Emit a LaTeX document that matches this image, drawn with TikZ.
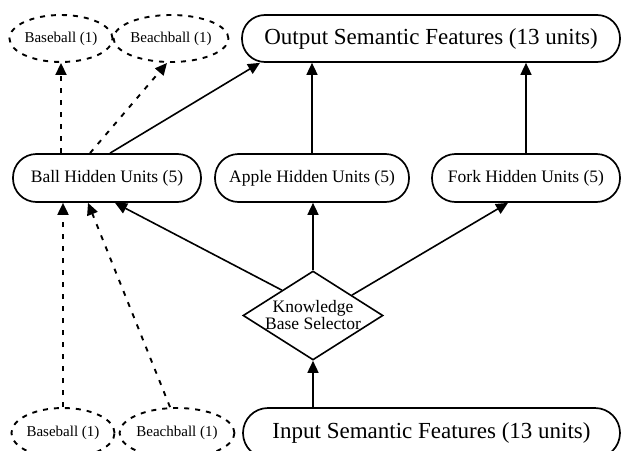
\documentclass[tikz,border=0pt]{standalone}
\usepackage{fontspec}
\setmainfont{Liberation Serif}
\usetikzlibrary{arrows.meta,shapes.geometric,calc}
\begin{document}
\begin{tikzpicture}[x=1pt,y=-1pt,
  box/.style={draw, line width=1.7pt, rounded corners=23pt, minimum height=47pt, inner sep=0pt, font=\fontsize{23}{26}\selectfont},
  hid/.style={draw, line width=1.7pt, rounded corners=23.5pt, minimum height=48pt, inner sep=0pt, font=\fontsize{17.5}{20}\selectfont},
  opt/.style={ellipse, draw, dash pattern=on 5pt off 6pt, line width=1.9pt, minimum width=98pt, minimum height=47pt, inner sep=0pt, font=\fontsize{15}{17}\selectfont},
  arr/.style={line width=1.6pt, -{Triangle[length=12pt,width=11pt]}},
  darr/.style={arr, line width=1.9pt, dash pattern=on 5pt off 7pt}]
\useasboundingbox (0,0) rectangle (624,450);
\clip (0,0) rectangle (624,450);
% top row
\node[box, minimum width=378pt] (out) at (431,38.5) {Output Semantic Features (13 units)};
\node[opt] (tbase) at (61,38.5) {Baseball (1)};
\node[opt, minimum width=102pt] (tbeach) at (171,38.5) {Beachball (1)};
% hidden row
\node[hid, minimum width=188pt] (ball) at (107,178) {Ball Hidden Units (5)};
\node[hid, minimum width=194pt] (apple) at (312,178) {Apple Hidden Units (5)};
\node[hid, minimum width=188pt] (fork) at (526,178) {Fork Hidden Units (5)};
% selector
\node[diamond, draw, line width=1.6pt, minimum width=140pt, minimum height=89pt, inner sep=0pt] (kb) at (313,315.5) {};
\node[align=center, font=\fontsize{17.5}{17}\selectfont] (kbt) at (kb.center) {Knowledge\\Base Selector};
% bottom row
\node[box, minimum width=377pt, minimum height=50pt, rounded corners=25pt] (inp) at (431.5,433) {Input Semantic Features (13 units)};
\node[opt, minimum width=100pt, minimum height=50pt] (bbase) at (63,433) {Baseball (1)};
\node[opt, minimum width=105pt, minimum height=50pt] (bbeach) at (177,433) {Beachball (1)};
% connectors
\draw[arr] ([xshift=3pt]ball.north) -- ([xshift=-171pt]out.south);
\draw[arr] (apple.north) -- (apple.north |- out.south);
\draw[arr] (fork.north) -- (fork.north |- out.south);
\draw[darr] (tbase.south |- ball.north) -- (tbase.south);
\draw[darr] ([xshift=-17pt]ball.north) -- ([xshift=-4pt]tbeach.south);
\draw[arr] ($(kb.north)!0.44!(kb.west)$) -- ([xshift=8pt]ball.south);
\draw[arr] (kb.north) -- (kb.north |- apple.south);
\draw[arr] ($(kb.north)!0.55!(kb.east)$) -- ([xshift=-18pt]fork.south);
\draw[arr] (kb.south |- inp.north) -- (kb.south);
\draw[darr] (bbase.north) -- (bbase.north |- ball.south);
\draw[darr] ([xshift=-7pt]bbeach.north) -- ([xshift=-19pt]ball.south);
\end{tikzpicture}
\end{document}
